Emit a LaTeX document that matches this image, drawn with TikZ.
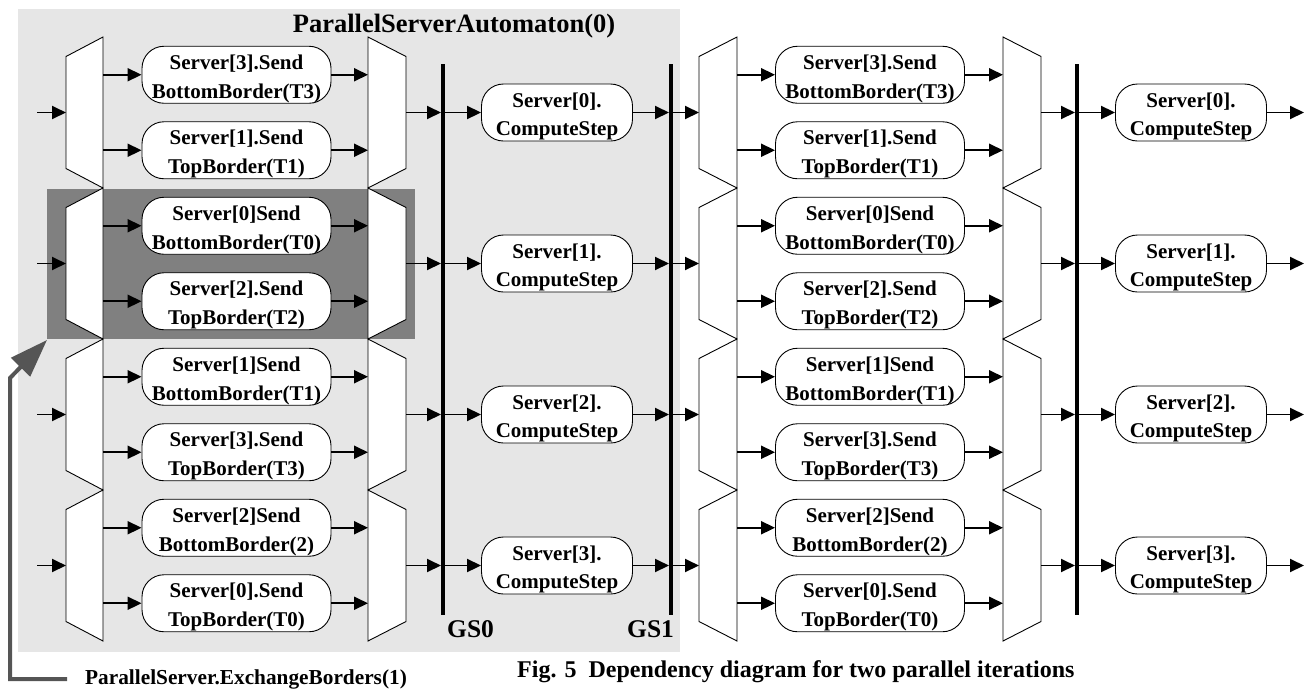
\documentclass[tikz,border=0pt]{standalone}
\usepackage{fontspec}
\setmainfont{Liberation Serif}
\usetikzlibrary{arrows.meta}
\definecolor{lightbg}{HTML}{E6E6E6}
\definecolor{darkbg}{HTML}{808080}
\definecolor{fbgray}{HTML}{555555}
\newcommand{\tstr}{\rule{0pt}{22pt}}
\begin{document}
\begin{tikzpicture}[x=1pt,y=-1pt,
  arr/.style={line width=1.9pt,-{Triangle[length=14pt,width=13pt]}},
  fork/.style={draw=black,fill=white,line width=0.9pt},
  gsbar/.style={line width=4.5pt},
  sendbox/.style={draw,fill=white,rounded corners=22pt,minimum width=189pt,minimum height=57pt,inner sep=0pt,align=center,font=\fontsize{21}{29}\selectfont\bfseries,line width=0.9pt},
  compbox/.style={sendbox,minimum width=151pt,font=\fontsize{21}{28}\selectfont\bfseries},
  lbl/.style={inner sep=0pt,anchor=base west,font=\bfseries}]
\useasboundingbox (0,0) rectangle (1308,689);
\fill[lightbg] (18,9) rectangle (680,652);
\fill[darkbg] (47,189) rectangle (415,339);
\node[inner sep=0pt,anchor=base,font=\fontsize{26.5}{30}\selectfont\bfseries] (title) at (454,32) {ParallelServerAutomaton(0)};
% barriers
\draw[gsbar] (443,64) -- (443,615);
\draw[gsbar] (671,64) -- (671,615);
\draw[gsbar] (1077,64) -- (1077,615);
\node[lbl,font=\fontsize{25.5}{28}\selectfont\bfseries] (gs0) at (447,637) {GS0};
\node[lbl,font=\fontsize{25.5}{28}\selectfont\bfseries] (gs1) at (627,637) {GS1};
\foreach \g/\sa/\ba/\sb/\bb in {0/{Server[3].Send}/{BottomBorder(T3)}/{Server[1].Send}/{TopBorder(T1)},
  1/{Server[0]Send}/{BottomBorder(T0)}/{Server[2].Send}/{TopBorder(T2)},
  2/{Server[1]Send}/{BottomBorder(T1)}/{Server[3].Send}/{TopBorder(T3)},
  3/{Server[2]Send}/{BottomBorder(2)}/{Server[0].Send}/{TopBorder(T0)}}{
  \pgfmathsetmacro\yt{37+151*\g}
  \pgfmathsetmacro\ye{\yt+151}
  \pgfmathsetmacro\ym{\yt+75.5}
  \pgfmathsetmacro\ya{\yt+37.75}
  \pgfmathsetmacro\yb{\yt+113.25}
  % ---- iteration A
  \draw[fork] (66,\yt+19.5) -- (103,\yt) -- (103,\ye) -- (66,\ye-19.5) -- cycle;
  \draw[fork] (368,\yt) -- (406,\yt+19.5) -- (406,\ye-19.5) -- (368,\ye) -- cycle;
  \node[sendbox] (sA\g a) at (236.5,\ya) {\tstr\sa\\\ba};
  \node[sendbox] (sA\g b) at (236.5,\yb) {\tstr\sb\\\bb};
  \node[compbox] (cA\g) at (557,\ym) {\tstr Server[\g].\\ComputeStep};
  \coordinate (inA\g) at (37,\ym);
  \coordinate (fA\g) at (66,\ym);
  \coordinate (fA\g a) at (103,\ya);
  \coordinate (fA\g b) at (103,\yb);
  \coordinate (mA\g a) at (368,\ya);
  \coordinate (mA\g b) at (368,\yb);
  \coordinate (mA\g) at (406,\ym);
  \coordinate (gA\g) at (441,\ym);
  \coordinate (gA\g r) at (443,\ym);
  \coordinate (gB\g) at (669,\ym);
  \coordinate (gB\g r) at (671,\ym);
  \draw[arr] (inA\g) -- (fA\g);
  \draw[arr] (fA\g a) -- (sA\g a.west);
  \draw[arr] (fA\g b) -- (sA\g b.west);
  \draw[arr] (sA\g a.east) -- (mA\g a);
  \draw[arr] (sA\g b.east) -- (mA\g b);
  \draw[arr] (mA\g) -- (gA\g);
  \draw[arr] (gA\g r) -- (cA\g.west);
  \draw[arr] (cA\g.east) -- (gB\g);
  % ---- iteration B
  \draw[fork] (699,\yt+19.5) -- (737,\yt) -- (737,\ye) -- (699,\ye-19.5) -- cycle;
  \draw[fork] (1003,\yt) -- (1041,\yt+19.5) -- (1041,\ye-19.5) -- (1003,\ye) -- cycle;
  \node[sendbox] (sB\g a) at (870,\ya) {\tstr\sa\\\ba};
  \node[sendbox] (sB\g b) at (870,\yb) {\tstr\sb\\\bb};
  \node[compbox] (cB\g) at (1191,\ym) {\tstr Server[\g].\\ComputeStep};
  \coordinate (fB\g) at (699,\ym);
  \coordinate (fB\g a) at (737,\ya);
  \coordinate (fB\g b) at (737,\yb);
  \coordinate (mB\g a) at (1003,\ya);
  \coordinate (mB\g b) at (1003,\yb);
  \coordinate (mB\g) at (1041,\ym);
  \coordinate (gC\g) at (1075,\ym);
  \coordinate (gC\g r) at (1077,\ym);
  \coordinate (out\g) at (1304,\ym);
  \draw[arr] (gB\g r) -- (fB\g);
  \draw[arr] (fB\g a) -- (sB\g a.west);
  \draw[arr] (fB\g b) -- (sB\g b.west);
  \draw[arr] (sB\g a.east) -- (mB\g a);
  \draw[arr] (sB\g b.east) -- (mB\g b);
  \draw[arr] (mB\g) -- (gC\g);
  \draw[arr] (gC\g r) -- (cB\g.west);
  \draw[arr] (cB\g.east) -- (out\g);
}
% feedback arrow
\node[lbl,font=\fontsize{21.3}{24}\selectfont\bfseries] (fbl) at (85,684) {ParallelServer.ExchangeBorders(1)};
\coordinate (fbs) at (67,679);
\coordinate (fbc1) at (10,679);
\coordinate (fbc2) at (10,378);
\coordinate (fbt) at (47,340);
\draw[fbgray,line width=4pt,-{Triangle[length=38pt,width=26pt]}] (fbs) -- (fbc1) -- (fbc2) -- (fbt);
\node[lbl,font=\fontsize{24}{27}\selectfont\bfseries] (cap) at (517,677) {Fig. 5\ \ Dependency diagram for two parallel iterations};
\end{tikzpicture}
\end{document}
